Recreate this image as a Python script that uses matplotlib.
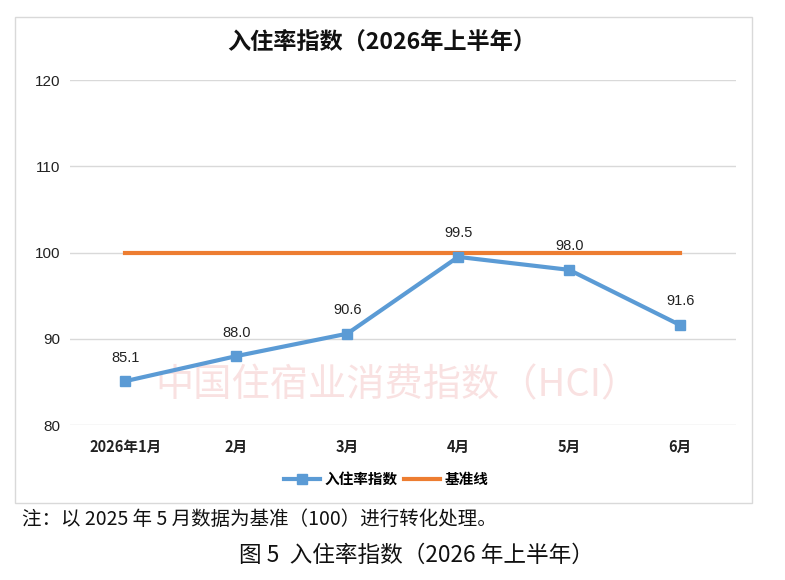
import matplotlib
matplotlib.use("Agg")
import matplotlib.pyplot as plt
from matplotlib.patches import Rectangle

plt.rcParams['font.family'] = ['Noto Sans CJK SC', 'DejaVu Sans']

categories = ["2026年1月", "2月", "3月", "4月", "5月", "6月"]
occupancy_index = [85.1, 88.0, 90.6, 99.5, 98.0, 91.6]
baseline = [100, 100, 100, 100, 100, 100]
yticks = [80, 90, 100, 110, 120]

title = "入住率指数（2026年上半年）"
note = "注：以 2025 年 5 月数据为基准（100）进行转化处理。"
caption = "图 5  入住率指数（2026 年上半年）"
watermark = "中国住宿业消费指数（HCI）"

fig = plt.figure(figsize=(7.85, 5.8), dpi=100)
ax = fig.add_axes([0.089, 0.267, 0.848, 0.595])

# chart frame
fig.patches.append(Rectangle((15/785, 1-503/580), (752-15)/785, (503-17)/580,
                             transform=fig.transFigure, fill=False,
                             edgecolor='#d9d9d9', linewidth=1.0, zorder=0))

x = list(range(len(categories)))
ax.plot(x, baseline, color='#ed7d31', linewidth=3, label='基准线', zorder=3)
ax.plot(x, occupancy_index, color='#5b9bd5', linewidth=3, marker='s',
        markersize=7, label='入住率指数', zorder=4)

for xi, v in zip(x, occupancy_index):
    ax.annotate(f"{v:.1f}", (xi, v), xytext=(0, 17), textcoords='offset points',
                ha='center', va='center', fontsize=10.5, color='#222222',
                family=['Liberation Sans', 'DejaVu Sans'])

ax.text(2.45, 84.6, watermark, ha='center', va='center', fontsize=27.5,
        color='#f9e1e1', zorder=0)

ax.set_xlim(-0.5, 5.5)
ax.set_ylim(80, 120)
ax.set_yticks(yticks)
ax.set_xticks(x)
ax.set_xticklabels(categories, fontsize=10.5, fontweight='bold', color='#222222')
for lab in ax.get_yticklabels():
    lab.set_fontsize(11)
    lab.set_color('#222222')
    lab.set_family(['Liberation Sans', 'DejaVu Sans'])
ax.tick_params(length=0, pad=10)
ax.tick_params(axis='y', pad=7)
ax.grid(axis='y', color='#d9d9d9', linewidth=1)
ax.set_axisbelow(True)
for s in ax.spines.values():
    s.set_visible(False)

fig.text(382/785, 1-43/580, title, ha='center', va='center', fontsize=16.7,
         fontweight='bold', color='#111111')

h, l = ax.get_legend_handles_labels()
leg = fig.legend([h[1], h[0]], [l[1], l[0]], loc='center',
                 bbox_to_anchor=(386/785, 1-479/580), ncol=2, frameon=False,
                 fontsize=10.5, handlelength=2.5, columnspacing=0.4,
                 handletextpad=0.3)
for t in leg.get_texts():
    t.set_fontweight('bold')

fig.text(22/785, 1-519/580, note, ha='left', va='center', fontsize=14,
         color='#111111')
fig.text(416/785, 1-555/580, caption, ha='center', va='center', fontsize=16.3,
         color='#111111')

fig.savefig("out.png", dpi=100)
